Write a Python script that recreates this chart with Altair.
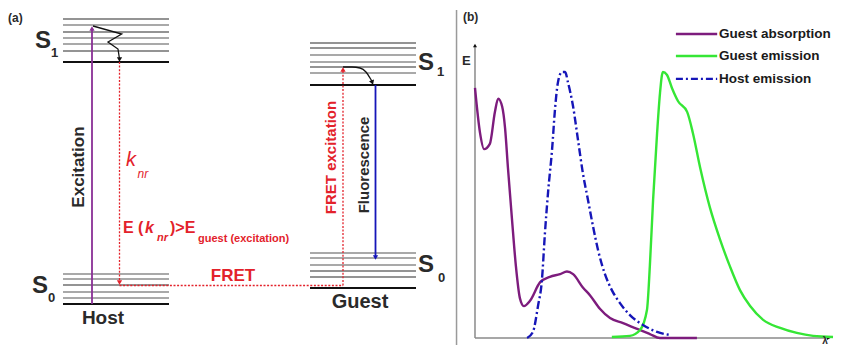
import altair as alt
import pandas as pd

FONT = "Liberation Sans"
RED = "#e3222b"
EXC_PURPLE = "#8a2f96"
ABS_PURPLE = "#7d1c7d"
GREEN = "#35e635"
BLUE = "#1616b8"
DARK = "#2a2a2a"
GRAY = "#8c8c8c"

# ---------------- panel (a): energy-level diagram (x across, E upward) ----------------
host_s1_E = [326, 320, 313, 307, 301, 294, 283]
host_s1_tone = ["d", "g", "d", "g", "g", "d", "b"]
host_s0_E = [71, 66, 60, 53, 47, 41]
host_s0_tone = ["g", "g", "d", "g", "g", "b"]
guest_s1_E = [302, 297, 290, 283, 278, 272, 260]
guest_s1_tone = ["d", "d", "g", "g", "d", "g", "b"]
guest_s0_E = [92, 87, 80, 74, 68, 57]
guest_s0_tone = ["g", "g", "g", "d", "d", "b"]
host_span = [55, 161]
guest_span = [302, 408]

squiggle_x = [85, 113.7, 100, 110, 111.5]
squiggle_E = [319, 311, 303, 296, 286]
curve_x = [335, 344, 352, 358, 362, 364.3]
curve_E = [278, 278, 277, 273, 267, 263]

# ---------------- panel (b): spectra ----------------
abs_lam = [0.0, 1.4, 2.5, 4.1, 5.5, 6.4, 7.5, 8.3, 9.1, 10.2, 11.3, 12.4, 13.5, 15.2, 18.0,
           20.7, 23.5, 25.4, 27.1, 29.8, 31.8, 34.5, 37.3, 40.9, 44.8, 48.3, 51.1, 61.3]
abs_E = [0.94, 0.77, 0.71, 0.73, 0.85, 0.90, 0.87, 0.79, 0.64, 0.45, 0.27, 0.15, 0.12, 0.14,
         0.21, 0.23, 0.24, 0.25, 0.24, 0.19, 0.16, 0.11, 0.075, 0.056, 0.034, 0.015, 0.0, 0.0]
gem_lam = [37.8, 42.8, 45.6, 47.5, 48.3, 49.2, 50.3, 51.1, 51.9, 53.0, 54.4, 56.1, 58.6, 60.2,
           62.2, 64.9, 67.7, 70.4, 73.2, 76.0, 79.6, 84.3, 88.9, 93.4, 98.9]
gem_E = [0.004, 0.008, 0.03, 0.105, 0.27, 0.52, 0.77, 0.92, 1.0, 0.99, 0.94, 0.89, 0.85, 0.77,
         0.64, 0.49, 0.37, 0.27, 0.18, 0.12, 0.068, 0.038, 0.019, 0.008, 0.004]
hem_lam = [14.4, 16.0, 17.4, 18.5, 19.3, 20.2, 21.3, 22.1, 22.9, 24.0, 24.9, 25.7, 27.1, 28.5,
           29.8, 31.2, 32.6, 34.0, 35.9, 37.8, 40.1, 42.8, 46.4, 50.3, 53.9]
hem_E = [0.0, 0.023, 0.12, 0.22, 0.39, 0.55, 0.71, 0.86, 0.96, 1.0, 1.0, 0.96, 0.87, 0.74, 0.62,
         0.52, 0.42, 0.33, 0.24, 0.18, 0.13, 0.086, 0.049, 0.023, 0.011]
series_names = ["Guest absorption", "Guest emission", "Host emission"]

W, H = 826, 337
LX = [0, 826]
LY = [0, 337]
RX = [-129.0, 99.17]
RY = [-0.0263, 1.2406]


def X(f, d):
    return alt.X(f, type="quantitative", scale=alt.Scale(domain=d), axis=None)


def Y(f, d):
    return alt.Y(f, type="quantitative", scale=alt.Scale(domain=d), axis=None)


layers = []

# energy levels
tone_color = {"d": DARK, "g": GRAY, "b": "#111111"}
tone_width = {"d": 1.2, "g": 1.4, "b": 2.0}
rows = []
for Es, tones, span in [(host_s1_E, host_s1_tone, host_span), (host_s0_E, host_s0_tone, host_span),
                        (guest_s1_E, guest_s1_tone, guest_span), (guest_s0_E, guest_s0_tone, guest_span)]:
    for e, t in zip(Es, tones):
        rows.append({"x1": span[0], "x2": span[1], "E": e, "c": tone_color[t], "w": tone_width[t]})
lev = pd.DataFrame(rows)
layers.append(alt.Chart(lev).mark_rule().encode(
    x=X("x1", LX), x2="x2", y=Y("E", LY),
    color=alt.Color("c:N", scale=None), strokeWidth=alt.StrokeWidth("w:Q", scale=None)))

# solid vertical arrows
vert = pd.DataFrame([
    {"x": 84, "E1": 41, "E2": 316, "c": EXC_PURPLE},
    {"x": 367.5, "E1": 260, "E2": 88, "c": BLUE},
])
layers.append(alt.Chart(vert).mark_rule(strokeWidth=1.8).encode(
    x=X("x", LX), y=Y("E1", LY), y2="E2", color=alt.Color("c:N", scale=None)))

# dotted red paths
dots_v = pd.DataFrame([
    {"x": 111.5, "E1": 283, "E2": 63},
    {"x": 335, "E1": 59.5, "E2": 275},
])
layers.append(alt.Chart(dots_v).mark_rule(strokeWidth=1.3, strokeDash=[2, 1.6], stroke=RED, color=RED).encode(
    x=X("x", LX), y=Y("E1", LY), y2="E2"))
dots_h = pd.DataFrame([{"x1": 111.5, "x2": 335, "E": 59.5}])
layers.append(alt.Chart(dots_h).mark_rule(strokeWidth=1.3, strokeDash=[2, 1.6], stroke=RED, color=RED).encode(
    x=X("x1", LX), x2="x2", y=Y("E", LY)))

# squiggle (internal conversion)
sq = pd.DataFrame({"x": squiggle_x, "E": squiggle_E, "o": range(len(squiggle_x))})
layers.append(alt.Chart(sq).mark_line(color="#111111", strokeWidth=1.3).encode(
    x=X("x", LX), y=Y("E", LY), order="o:Q"))
# curved relaxation arrow in guest
cv = pd.DataFrame({"x": curve_x, "E": curve_E})
layers.append(alt.Chart(cv).mark_line(color="#111111", strokeWidth=1.3, interpolate="monotone").encode(
    x=X("x", LX), y=Y("E", LY)))

# arrowheads
heads = pd.DataFrame([
    {"x": 84, "E": 316.5, "a": 0, "c": EXC_PURPLE},
    {"x": 111.5, "E": 285.5, "a": 180, "c": "#111111"},
    {"x": 111.5, "E": 62.5, "a": 180, "c": RED},
    {"x": 335, "E": 275.5, "a": 0, "c": RED},
    {"x": 364.3, "E": 262.5, "a": 160, "c": "#111111"},
    {"x": 367.5, "E": 87.5, "a": 180, "c": BLUE},
])
layers.append(alt.Chart(heads).mark_point(shape="triangle-up", filled=True, size=28, opacity=1).encode(
    x=X("x", LX), y=Y("E", LY), angle=alt.Angle("a:Q", scale=None), color=alt.Color("c:N", scale=None)))


def txt(text, x, y, xd, yd, size, color=DARK, weight="bold", style="normal", align="left",
        baseline="middle", angle=0):
    df = pd.DataFrame({"x": [x], "y": [y], "t": [text]})
    kw = dict(font=FONT, fontSize=size, fontWeight=weight, fontStyle=style, color=color,
              align=align, baseline=baseline)
    if angle:
        kw["angle"] = angle
    return alt.Chart(df).mark_text(**kw).encode(x=X("x", xd), y=Y("y", yd), text="t:N")


# panel (a) texts
layers += [
    txt("(a)", 0, 327.5, LX, LY, 12),
    txt("S", 27, 304, LX, LY, 24),
    txt("1", 43, 292, LX, LY, 13),
    txt("S", 24, 59.5, LX, LY, 24),
    txt("0", 40, 47, LX, LY, 13),
    txt("Host", 95, 27, LX, LY, 19, align="center"),
    txt("Guest", 352, 43.5, LX, LY, 20, align="center"),
    txt("S", 410, 282.5, LX, LY, 24),
    txt("1", 429, 273, LX, LY, 13),
    txt("S", 410, 80, LX, LY, 24),
    txt("0", 430, 67, LX, LY, 13),
    txt("Excitation", 71, 178, LX, LY, 17, align="center", angle=270),
    txt("Fluorescence", 356, 180, LX, LY, 15, align="center", angle=270),
    txt("FRET excitation", 323, 187.5, LX, LY, 15, color=RED, align="center", angle=270),
    txt("k", 118, 185, LX, LY, 20, color=RED, weight="normal", style="italic"),
    txt("nr", 129.5, 171, LX, LY, 12, color=RED, weight="normal", style="italic"),
    txt("E (", 115, 117, LX, LY, 16, color=RED),
    txt("k", 137, 117, LX, LY, 16, color=RED, style="italic"),
    txt("nr", 149, 107.5, LX, LY, 11, color=RED, style="italic"),
    txt(")>E", 162, 117, LX, LY, 16, color=RED),
    txt("guest (excitation)", 190, 106, LX, LY, 11, color=RED),
    txt("FRET", 225, 69.5, LX, LY, 17, color=RED, align="center"),
]

# panel (b): separator and axes
sep = pd.DataFrame([{"x": -5.1, "y1": 1.233, "y2": -0.0263}])
layers.append(alt.Chart(sep).mark_rule(color="#9a9a9a", strokeWidth=1.5).encode(
    x=X("x", RX), y=Y("y1", RY), y2="y2"))
yax = pd.DataFrame([{"x": 0, "y1": 0, "y2": 1.10}])
layers.append(alt.Chart(yax).mark_rule(color="#8a8a8a", strokeWidth=1.5).encode(
    x=X("x", RX), y=Y("y1", RY), y2="y2"))
xax = pd.DataFrame([{"x1": 0, "x2": 97.6, "y": 0}])
layers.append(alt.Chart(xax).mark_rule(color="#8a8a8a", strokeWidth=1.5).encode(
    x=X("x1", RX), x2="x2", y=Y("y", RY)))
axheads = pd.DataFrame([{"x": 0, "y": 1.0996, "a": 0}, {"x": 97.7, "y": 0, "a": 90}])
layers.append(alt.Chart(axheads).mark_point(shape="triangle-up", filled=True, size=16, color="#111111", opacity=1).encode(
    x=X("x", RX), y=Y("y", RY), angle=alt.Angle("a:Q", scale=None)))

# spectra
specs = [
    (abs_lam, abs_E, ABS_PURPLE, None),
    (gem_lam, gem_E, GREEN, None),
    (hem_lam, hem_E, BLUE, [8, 3, 2, 3]),
]
for (lam, e, col, dash), name in zip(specs, series_names):
    df = pd.DataFrame({"lam": lam, "E": e, "s": name})
    kw = dict(color=col, strokeWidth=2.4, interpolate="monotone")
    if dash:
        kw["strokeDash"] = dash
    layers.append(alt.Chart(df).mark_line(**kw).encode(x=X("lam", RX), y=Y("E", RY)))

# legend
leg_y = [1.143, 1.060, 0.974]
for (lam, e, col, dash), name, ly in zip(specs, series_names, leg_y):
    df = pd.DataFrame([{"x1": 55.5, "x2": 66.9, "y": ly}])
    kw = dict(color=col, strokeWidth=2.4)
    if dash:
        kw["strokeDash"] = [7, 3, 2, 3]
    layers.append(alt.Chart(df).mark_rule(**kw).encode(x=X("x1", RX), x2="x2", y=Y("y", RY)))
    layers.append(txt(name, 67.4, ly, RX, RY, 13.5, color="#1a1a1a"))

layers += [
    txt("(b)", -3.3, 1.205, RX, RY, 12),
    txt("E", -3.6, 1.041, RX, RY, 13),
    txt("λ", 95.9, -0.0244, RX, RY, 10, baseline="alphabetic"),
]

chart = alt.layer(*layers).resolve_scale(x="independent", y="independent").properties(
    width=W, height=H, padding=0, background="white",
    autosize=alt.AutoSizeParams(type="none"),
).configure_view(stroke=None)

chart.save("out.html", embed_options={"renderer": "svg", "actions": False})
